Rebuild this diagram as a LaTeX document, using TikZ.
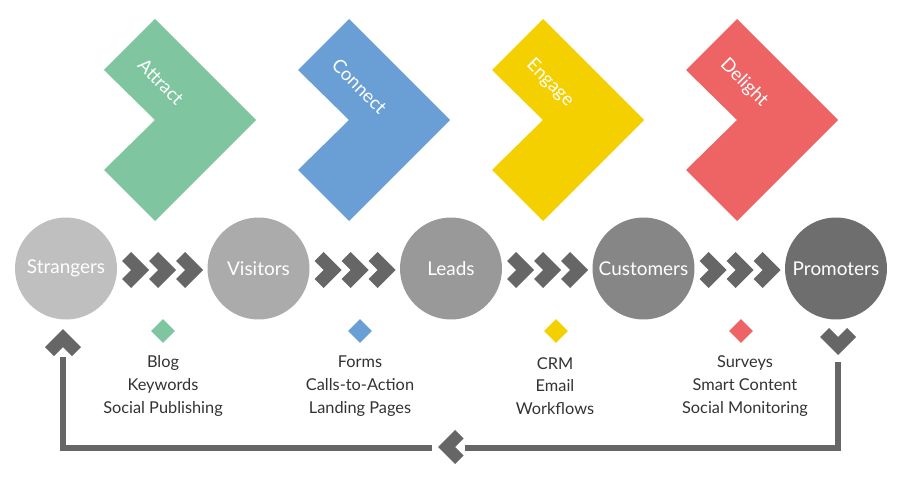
\documentclass[tikz,border=0pt]{standalone}
\usepackage{fontspec}
\setmainfont{Lato}
\usetikzlibrary{shapes.geometric}
\usepackage{xcolor}
\definecolor{attractgreen}{HTML}{7EC5A0}
\definecolor{connectblue}{HTML}{6A9FD5}
\definecolor{engageyellow}{HTML}{F5D000}
\definecolor{delightred}{HTML}{EE6464}
\definecolor{chevgray}{HTML}{666666}
\definecolor{toolgray}{HTML}{333333}
\definecolor{strangerfill}{HTML}{BFBFBF}
\definecolor{visitorfill}{HTML}{ABABAB}
\definecolor{leadfill}{HTML}{999999}
\definecolor{customerfill}{HTML}{868686}
\definecolor{promoterfill}{HTML}{6E6E6E}

\begin{document}
\begin{tikzpicture}[x=0.02cm, y=-0.02cm,
    stage/.style={circle, minimum size=2.04cm, inner sep=0pt, text=white,
                  font=\fontsize{10.8}{13}\selectfont},
    phase/.style={rotate=-45, anchor=west, inner sep=0pt, text=white,
                  font=\fontsize{10.5}{12}\selectfont},
    marker/.style={diamond, minimum size=0.48cm, inner sep=0pt},
    tools/.style={align=center, text=toolgray, font=\fontsize{9.3}{13}\selectfont},
    returnline/.style={draw=chevgray, line width=3.3pt}]
  \fill[white] (0,0) rectangle (900,500);
  \useasboundingbox (0,0) rectangle (900,500);

  % Phase chevrons
  \fill[attractgreen] (155,19) -- ++(101,101) -- ++(-101,101) -- ++(-51,-51)
        -- ++(51,-50) -- ++(-51,-50) -- cycle;
  \node[phase] (attract) at (141,62) {Attract};
  \fill[connectblue] (349,19) -- ++(101,101) -- ++(-101,101) -- ++(-51,-51)
        -- ++(51,-50) -- ++(-51,-50) -- cycle;
  \node[phase] (connect) at (335,62) {Connect};
  \fill[engageyellow] (543,19) -- ++(101,101) -- ++(-101,101) -- ++(-51,-51)
        -- ++(51,-50) -- ++(-51,-50) -- cycle;
  \node[phase] (engage) at (529,62) {Engage};
  \fill[delightred] (737,19) -- ++(101,101) -- ++(-101,101) -- ++(-51,-51)
        -- ++(51,-50) -- ++(-51,-50) -- cycle;
  \node[phase] (delight) at (723,62) {Delight};

  % Stages
  \node[stage, fill=strangerfill] (strangers) at (66,268.5)  {Strangers};
  \node[stage, fill=visitorfill]  (visitors)  at (258.5,268.5) {Visitors};
  \node[stage, fill=leadfill]     (leads)     at (451,268.5) {Leads};
  \node[stage, fill=customerfill] (customers) at (643.5,268.5) {Customers};
  \node[stage, fill=promoterfill] (promoters) at (836,268.5) {Promoters};

  % Small chevrons between stages
  \fill[chevgray] (131,252) -- ++(18,18) -- ++(-18,18) -- ++(-9,-9) -- ++(9,-9) -- ++(-9,-9) -- cycle;
  \fill[chevgray] (158,252) -- ++(18,18) -- ++(-18,18) -- ++(-9,-9) -- ++(9,-9) -- ++(-9,-9) -- cycle;
  \fill[chevgray] (185,252) -- ++(18,18) -- ++(-18,18) -- ++(-9,-9) -- ++(9,-9) -- ++(-9,-9) -- cycle;
  \fill[chevgray] (323.5,252) -- ++(18,18) -- ++(-18,18) -- ++(-9,-9) -- ++(9,-9) -- ++(-9,-9) -- cycle;
  \fill[chevgray] (350.5,252) -- ++(18,18) -- ++(-18,18) -- ++(-9,-9) -- ++(9,-9) -- ++(-9,-9) -- cycle;
  \fill[chevgray] (377.5,252) -- ++(18,18) -- ++(-18,18) -- ++(-9,-9) -- ++(9,-9) -- ++(-9,-9) -- cycle;
  \fill[chevgray] (516,252) -- ++(18,18) -- ++(-18,18) -- ++(-9,-9) -- ++(9,-9) -- ++(-9,-9) -- cycle;
  \fill[chevgray] (543,252) -- ++(18,18) -- ++(-18,18) -- ++(-9,-9) -- ++(9,-9) -- ++(-9,-9) -- cycle;
  \fill[chevgray] (570,252) -- ++(18,18) -- ++(-18,18) -- ++(-9,-9) -- ++(9,-9) -- ++(-9,-9) -- cycle;
  \fill[chevgray] (708.5,252) -- ++(18,18) -- ++(-18,18) -- ++(-9,-9) -- ++(9,-9) -- ++(-9,-9) -- cycle;
  \fill[chevgray] (735.5,252) -- ++(18,18) -- ++(-18,18) -- ++(-9,-9) -- ++(9,-9) -- ++(-9,-9) -- cycle;
  \fill[chevgray] (762.5,252) -- ++(18,18) -- ++(-18,18) -- ++(-9,-9) -- ++(9,-9) -- ++(-9,-9) -- cycle;

  % Markers and tools
  \node[marker, fill=attractgreen] (blogmark)    at (163,331) {};
  \node[marker, fill=connectblue]  (formsmark)   at (360,331) {};
  \node[marker, fill=engageyellow] (crmmark)     at (556,331) {};
  \node[marker, fill=delightred]   (surveysmark) at (741,331) {};
  \node[tools] (attracttools) at (163,386) {Blog\\Keywords\\Social Publishing};
  \node[tools] (connecttools) at (360,386) {Forms\\Calls-to-Action\\Landing Pages};
  \node[tools] (engagetools)  at (555,386) {CRM\\Email\\Workflows};
  \node[tools] (delighttools) at (745,386) {Surveys\\Smart Content\\Social Monitoring};

  % Return loop
  \fill[chevgray] (820,337) -- (838,355) -- (856,337) -- (847,328) -- (838,337) -- (829,328) -- cycle;
  \fill[chevgray] (455,430) -- (438,447) -- (455,464) -- (463.5,455.5) -- (455,447) -- (463.5,438.5) -- cycle;
  \fill[chevgray] (45,347) -- (63,329) -- (81,347) -- (72,356) -- (63,347) -- (54,356) -- cycle;
  \coordinate (retstart) at (838,362);
  \coordinate (retmidR)  at (465,448);
  \coordinate (retmidL)  at (432,448);
  \coordinate (retend)   at (63,357);
  \draw[returnline] (retstart) |- (retmidR);
  \draw[returnline] (retmidL) -| (retend);
\end{tikzpicture}
\end{document}
